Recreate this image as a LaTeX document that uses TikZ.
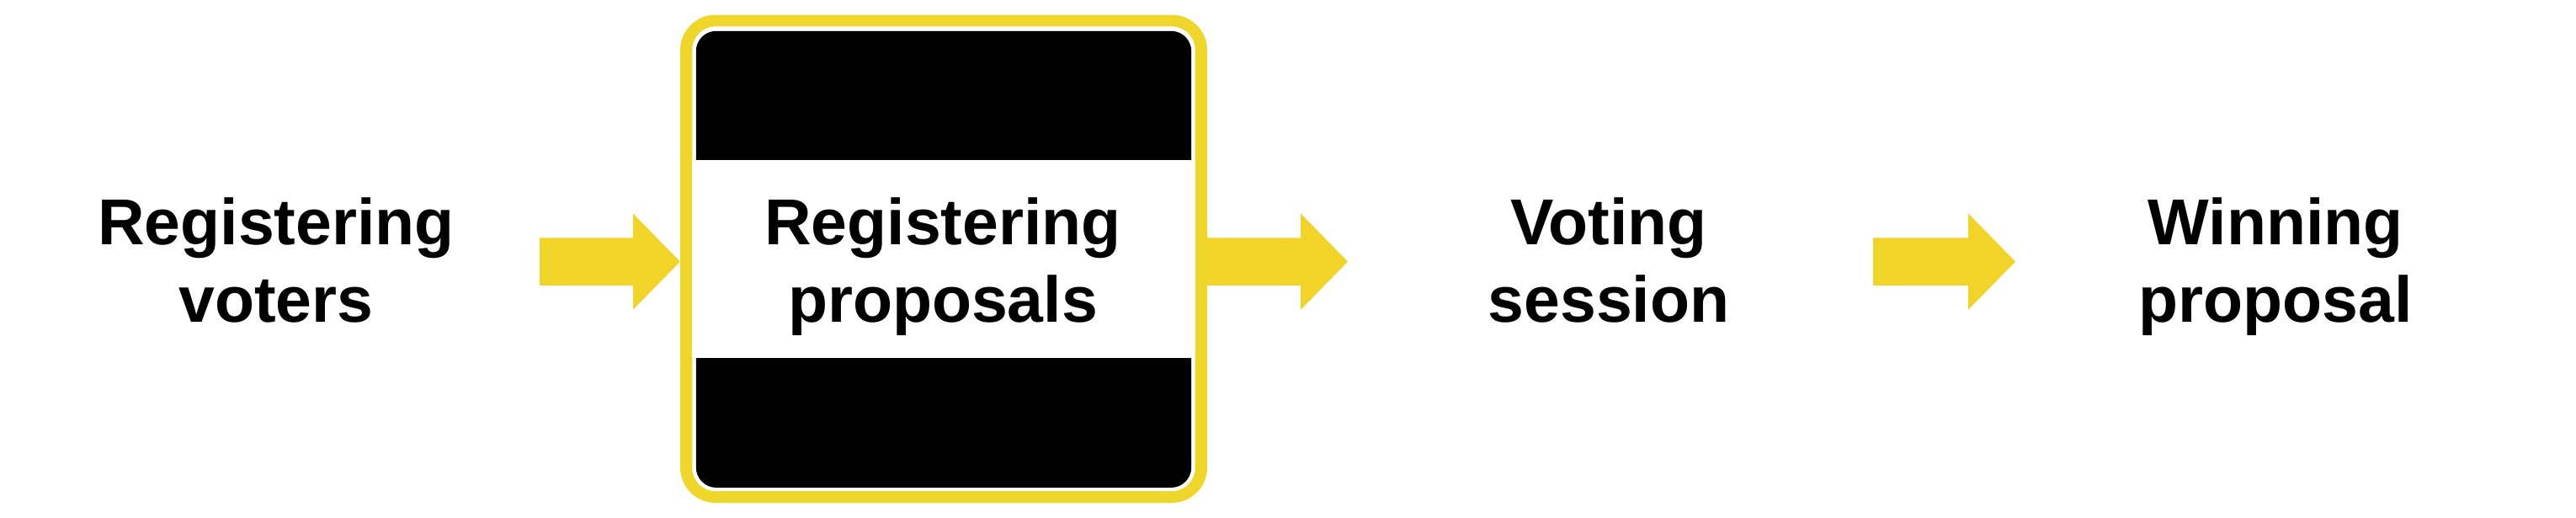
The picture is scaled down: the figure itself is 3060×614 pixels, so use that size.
\documentclass[tikz,border=0pt]{standalone}
\usepackage{fontspec}
\setmainfont{Liberation Sans}
\usetikzlibrary{calc}
\definecolor{arrowyellow}{RGB}{242,212,40}
\definecolor{frameyellow}{RGB}{238,214,42}
\newcommand\yblockarrow[2]{%
  \fill[arrowyellow] ($(#1)+(0,-28.35)$) -- ($(#2)+(-56,-28.35)$) -- ($(#2)+(-56,-57.2)$) -- (#2)
    -- ($(#2)+(-56,57.2)$) -- ($(#2)+(-56,28.35)$) -- ($(#1)+(0,28.35)$) -- cycle;}
\begin{document}
\begin{tikzpicture}[x=1pt,y=-1pt,
  stagetext/.style={font=\fontsize{77}{92.5}\selectfont\bfseries, align=center, anchor=base, inner sep=0pt, text=black},
  framebox/.style={fill=frameyellow, rounded corners=42pt, minimum width=626pt, minimum height=579.4pt, inner sep=0pt, draw=none}]
\useasboundingbox[fill=white] (0,0) rectangle (3060,614);
% framed stage
\node[framebox] (p) at (1121,307.3) {};
\fill[white, rounded corners=28pt] ($(p.north west)+(14.5,14)$) rectangle ($(p.south east)+(-14.5,-14)$);
\fill[black, rounded corners=24pt] ($(p.north west)+(19,19.4)$) rectangle ($(p.south east)+(-19,-18.3)$);
\fill[white] ($(p.north west)+(14.5,172.4)$) rectangle ($(p.north east)+(-14.5,407.4)$);
% labels
\node[stagetext] (v) at (328,382.5) {Registering\\voters};
\node[stagetext] (pt) at (1120,382.5) {Registering\\proposals};
\node[stagetext] (s) at (1911,382.5) {Voting\\session};
\node[stagetext] (w) at (2703,382.5) {Winning\\proposal};
% arrows
\coordinate (a1) at (641,310.6);
\coordinate (a2) at (1601,310.6);
\coordinate (a3s) at (2225,310.6);
\coordinate (a3e) at (2394,310.6);
\yblockarrow{a1}{a1 -| p.west}
\yblockarrow{a1 -| p.east}{a2}
\yblockarrow{a3s}{a3e}
\end{tikzpicture}
\end{document}
